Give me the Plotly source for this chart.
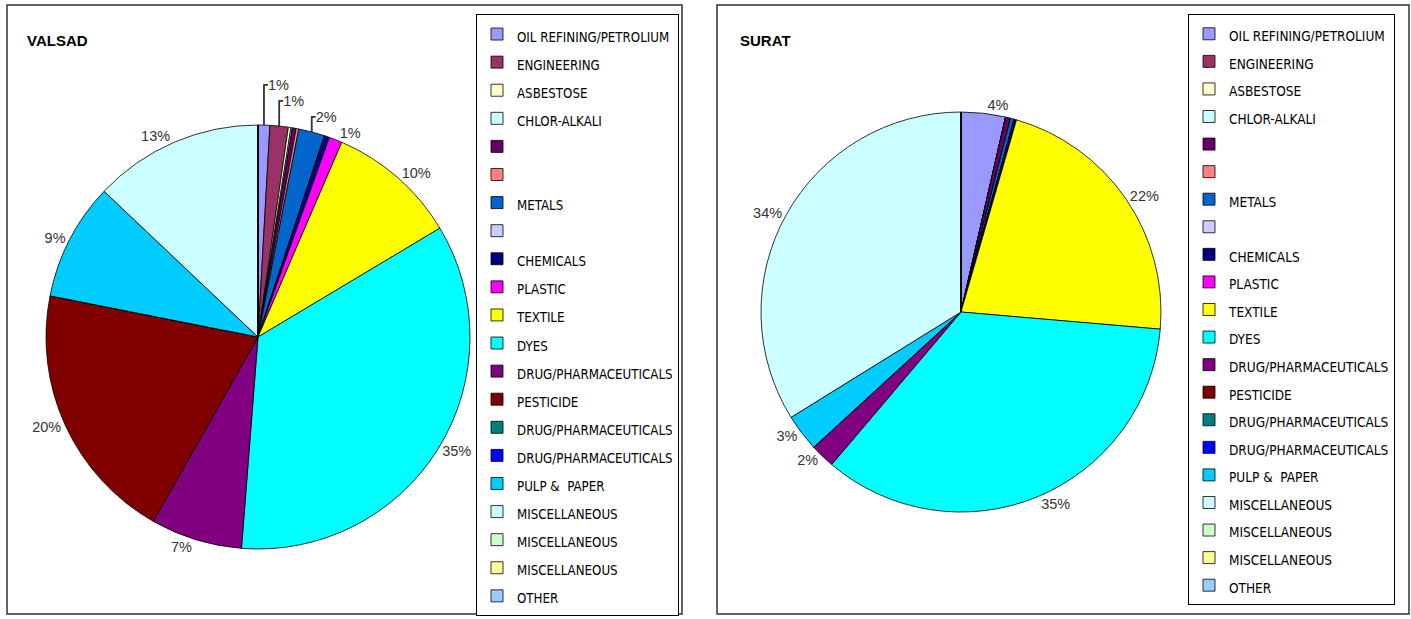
import plotly.graph_objects as go

categories = ["OIL REFINING/PETROLIUM", "ENGINEERING", "ASBESTOSE", "CHLOR-ALKALI", "",
              "", "METALS", "", "CHEMICALS", "PLASTIC", "TEXTILE", "DYES",
              "DRUG/PHARMACEUTICALS", "PESTICIDE", "DRUG/PHARMACEUTICALS", "DRUG/PHARMACEUTICALS",
              "PULP &  PAPER", "MISCELLANEOUS", "MISCELLANEOUS", "MISCELLANEOUS", "OTHER"]
colors = ["#9999FF", "#993366", "#FFFFCC", "#CCFFFF", "#660066", "#FF8080", "#0066CC", "#CCCCFF",
          "#000080", "#FF00FF", "#FFFF00", "#00FFFF", "#800080", "#800000", "#008080", "#0000FF",
          "#00CCFF", "#CCFFFF", "#CCFFCC", "#FFFF99", "#99CCFF"]

valsad_values = [0.9, 1.4, 0.2, 0.1, 0.3, 0.2, 2.0, 0, 0.4, 1.0, 10, 35, 7, 20, 0, 0, 9, 13, 0, 0, 0]
valsad_text = ["1%", "1%", "", "", "", "", "2%", "", "", "1%", "10%", "35%", "7%", "20%", "", "", "9%", "13%", "", "", ""]

surat_values = [3.6, 0, 0, 0, 0.4, 0, 0.3, 0, 0.2, 0, 22, 35, 2, 0, 0, 0, 3, 34, 0, 0, 0]
surat_text = ["4%", "", "", "", "", "", "", "", "", "", "22%", "35%", "2%", "", "", "", "3%", "34%", "", "", ""]

W, H = 1411, 619
FONT = "Liberation Sans Narrow, Arial Narrow, DejaVu Sans Condensed, Liberation Sans, Arial"


def px(x):
    return x / W


def py(y):
    return 1 - y / H


def dom(cx, cy, r):
    return dict(x=[px(cx - r), px(cx + r)], y=[py(cy + r), py(cy - r)])


def legend_labels(tag, size):
    # unique, invisible tag keeps repeated names as separate slices / legend entries
    return [f"<span style='font-size:{size}px' data-k='{tag}{i}'>{c}</span>" for i, c in enumerate(categories)]


fig = go.Figure()
fig.add_trace(go.Pie(
    labels=legend_labels("v", 13.2), values=valsad_values, text=valsad_text, textinfo="text",
    textposition="outside", sort=False, direction="clockwise", rotation=0,
    marker=dict(colors=colors, line=dict(color="black", width=0.8)),
    outsidetextfont=dict(family="Liberation Sans, Arial", size=14.5, color="#333333"),
    domain=dom(258, 337, 212), legend="legend", showlegend=True, hoverinfo="percent",
))
fig.add_trace(go.Pie(
    labels=legend_labels("s", 13.5), values=surat_values, text=surat_text, textinfo="text",
    textposition="outside", sort=False, direction="clockwise", rotation=0,
    marker=dict(colors=colors, line=dict(color="black", width=0.8)),
    outsidetextfont=dict(family="Liberation Sans, Arial", size=14.5, color="#333333"),
    domain=dom(961, 312, 200), legend="legend2", showlegend=True, hoverinfo="percent",
))

legend_common = dict(bgcolor="white", bordercolor="black", borderwidth=1,
                     xanchor="left", yanchor="top", traceorder="normal",
                     itemclick=False, itemdoubleclick=False)
fig.update_layout(
    width=W, height=H, margin=dict(l=0, r=0, t=0, b=0),
    paper_bgcolor="white", plot_bgcolor="white",
    legend=dict(x=px(476), y=py(14), font=dict(family=FONT, size=19.3, color="black"),
                **legend_common),
    legend2=dict(x=px(1188), y=py(14), font=dict(family=FONT, size=18.9, color="black"),
                 **legend_common),
    shapes=[
        dict(type="rect", xref="paper", yref="paper", x0=px(7), x1=px(682), y0=py(614), y1=py(5),
             line=dict(color="#333333", width=1.5), layer="below"),
        dict(type="rect", xref="paper", yref="paper", x0=px(717), x1=px(1409), y0=py(614), y1=py(5),
             line=dict(color="#333333", width=1.5), layer="below"),
    ],
    annotations=[
        dict(text="<b>VALSAD</b>", x=px(25), y=py(40), xref="paper", yref="paper", xanchor="left",
             yanchor="middle", showarrow=False, font=dict(family="Liberation Sans, Arial", size=15, color="black")),
        dict(text="<b>SURAT</b>", x=px(738), y=py(40), xref="paper", yref="paper", xanchor="left",
             yanchor="middle", showarrow=False, font=dict(family="Liberation Sans, Arial", size=15, color="black")),
    ],
)
fig.update_traces(texttemplate="%{text}")
fig.write_html("out.html", config={"displayModeBar": False},
               post_script="document.body.style.margin='0';")
